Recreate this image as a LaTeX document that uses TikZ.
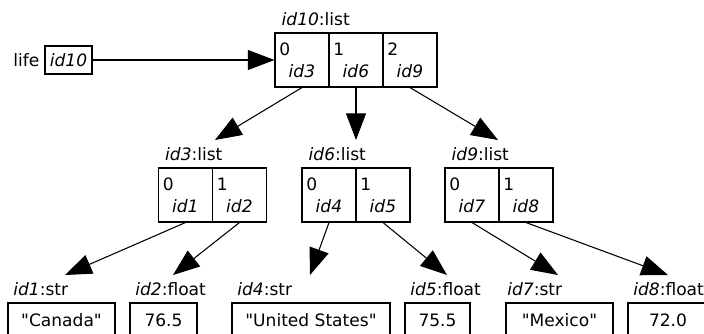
\documentclass[tikz,border=0pt]{standalone}
\usepackage{fontspec}
\setmainfont{DejaVu Sans}[Ligatures = TeXOff]
\usetikzlibrary{arrows.meta}

\begin{document}
\begin{tikzpicture} [x = 0.75pt, y = -0.75pt, line width = 0.8pt,
	font = \fontsize{12.8pt}{15pt}\selectfont,
	cell/.style = {draw, minimum width = 40.5pt, minimum height = 40.5pt, inner sep = 3pt,
		align = left, text width = 34pt, font = \fontsize{12.8pt}{16.5pt}\selectfont},
	valbox/.style = {draw, minimum height = 25.5pt, inner sep = 0pt},
	typelab/.style = {anchor = base west, inner sep = 0pt},
	ptr/.style = {-{Triangle[length = 20pt, width = 15pt]}}]
	\useasboundingbox (0,0) rectangle (704,333);
	\clip (0,0) rectangle (704,333);

	% the name
	\node [draw, minimum width = 35.25pt, minimum height = 21pt, inner sep = 0pt] (life) at (68.5,60) {\textit{id10}};
	\node [left] (lifename) at (life.west) {life};

	% outer list
	\node [cell] (l10a) at (302,60) {0\\\hspace*{7pt}\textit{id3}};
	\node [cell] (l10b) at (356,60) {1\\\hspace*{7pt}\textit{id6}};
	\node [cell] (l10c) at (410,60) {2\\\hspace*{7pt}\textit{id9}};
	\node [typelab] (lab10) at ([xshift = 5pt, yshift = 5.5pt] l10a.north west) {\textit{id10}:list};

	% inner lists
	\node [cell] (l3a) at (185.5,195) {0\\\hspace*{7pt}\textit{id1}};
	\node [cell] (l3b) at (239.5,195) {1\\\hspace*{7pt}\textit{id2}};
	\node [typelab] (lab3) at ([xshift = 5pt, yshift = 5.5pt] l3a.north west) {\textit{id3}:list};
	\node [cell] (l6a) at (329,195) {0\\\hspace*{7pt}\textit{id4}};
	\node [cell] (l6b) at (383,195) {1\\\hspace*{7pt}\textit{id5}};
	\node [typelab] (lab6) at ([xshift = 5pt, yshift = 5.5pt] l6a.north west) {\textit{id6}:list};
	\node [cell] (l9a) at (472,195) {0\\\hspace*{7pt}\textit{id7}};
	\node [cell] (l9b) at (526,195) {1\\\hspace*{7pt}\textit{id8}};
	\node [typelab] (lab9) at ([xshift = 5pt, yshift = 5.5pt] l9a.north west) {\textit{id9}:list};

	% values
	\node [valbox, minimum width = 80.25pt] (v1) at (61.5,320) {"Canada"};
	\node [valbox, minimum width = 50.25pt] (v2) at (163.5,320) {76.5};
	\node [valbox, minimum width = 118.5pt] (v4) at (311,320) {"United States"};
	\node [valbox, minimum width = 48.75pt] (v5) at (437.5,320) {75.5};
	\node [valbox, minimum width = 80.25pt] (v7) at (559.5,320) {"Mexico"};
	\node [valbox, minimum width = 60pt] (v8) at (668,320) {72.0};
	\node [typelab] (lab1) at ([xshift = 4pt, yshift = 5pt] v1.north west) {\textit{id1}:str};
	\node [typelab] (lab2) at ([xshift = 4pt, yshift = 5pt] v2.north west) {\textit{id2}:float};
	\node [typelab] (lab4) at ([xshift = 4pt, yshift = 5pt] v4.north west) {\textit{id4}:str};
	\node [typelab] (lab5) at ([xshift = 4pt, yshift = 5pt] v5.north west) {\textit{id5}:float};
	\node [typelab] (lab7) at ([xshift = 1pt, yshift = 5pt] v7.north west) {\textit{id7}:str};
	\node [typelab] (lab8) at ([xshift = 4pt, yshift = 5pt] v8.north west) {\textit{id8}:float};

	% arrow tips
	\coordinate (t3) at (215,140);
	\coordinate (t6) at (356,140);
	\coordinate (t9) at (498,140);
	\coordinate (t1) at (65,275);
	\coordinate (t2) at (173,275);
	\coordinate (t4) at (310,275);
	\coordinate (t5) at (447,275);
	\coordinate (t7) at (558,275);
	\coordinate (t8) at (668,275);

	\draw [ptr] (life.east) -- (l10a.west);
	\draw [ptr] (l10a.south) -- (t3);
	\draw [ptr] (l10b.south) -- (t6);
	\draw [ptr] (l10c.south) -- (t9);
	\draw [ptr] (l3a.south) -- (t1);
	\draw [ptr] (l3b.south) -- (t2);
	\draw [ptr] (l6a.south) -- (t4);
	\draw [ptr] (l6b.south) -- (t5);
	\draw [ptr] (l9a.south) -- (t7);
	\draw [ptr] (l9b.south) -- (t8);
\end{tikzpicture}
\end{document}
